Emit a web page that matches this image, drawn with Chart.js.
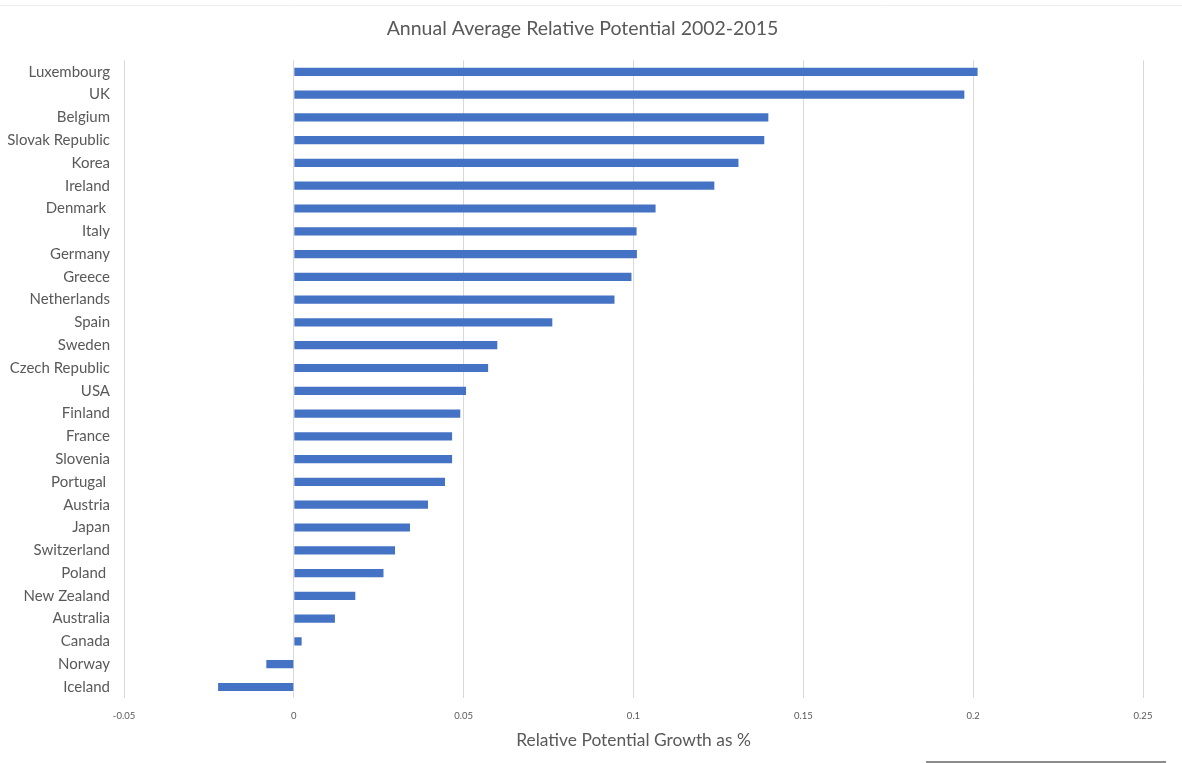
<!DOCTYPE html>
<html>
<head>
<meta charset="utf-8">
<title>Annual Average Relative Potential 2002-2015</title>
<script src="https://cdn.jsdelivr.net/npm/chart.js@4/dist/chart.umd.min.js"></script>
<style>
  html, body { margin: 0; padding: 0; background: #fff; }
  #wrap { width: 1182px; height: 763px; position: relative; }
</style>
</head>
<body>
<div id="wrap"><canvas id="potentialChart"></canvas></div>
<script>
// countries, top to bottom as shown
var countries = [
    "Luxembourg", "UK", "Belgium", "Slovak Republic", "Korea", "Ireland",
    "Denmark ", "Italy", "Germany", "Greece", "Netherlands", "Spain",
    "Sweden", "Czech Republic", "USA", "Finland", "France", "Slovenia",
    "Portugal ", "Austria", "Japan", "Switzerland", "Poland ", "New Zealand",
    "Australia", "Canada", "Norway", "Iceland"
];

var growth = [
    0.2013, 0.1974, 0.1397, 0.1385, 0.1309, 0.1238,
    0.1065, 0.1009, 0.1010, 0.0994, 0.0944, 0.0761,
    0.0599, 0.0572, 0.0507, 0.0490, 0.0466, 0.0466,
    0.0445, 0.0395, 0.0342, 0.0298, 0.0264, 0.0181,
    0.0121, 0.0023, -0.0081, -0.0223
];

var xTicks = [-0.05, 0, 0.05, 0.1, 0.15, 0.2, 0.25];

var textGrey = '#595959';
var barBlue = '#4472C4';

// faint screenshot edges seen in the picture
var edgeLines = {
    id: 'edgeLines',
    afterDraw: function(chart) {
        var c = chart.ctx;
        c.save();
        c.strokeStyle = '#eeeeee';
        c.lineWidth = 1;
        c.beginPath();
        c.moveTo(0, 5.5);
        c.lineTo(1182, 5.5);
        c.stroke();
        c.strokeStyle = '#8c8c8c';
        c.lineWidth = 2;
        c.beginPath();
        c.moveTo(926, 762);
        c.lineTo(1166, 762);
        c.stroke();
        c.restore();
    }
};

var config = {
    type: 'bar',
    data: {
        labels: countries,
        datasets: [{
            data: growth,
            backgroundColor: barBlue,
            borderWidth: 0,
            barPercentage: 0.36,
            categoryPercentage: 1
        }]
    },
    plugins: [edgeLines],
    options: {
        indexAxis: 'y',
        responsive: false,
        animation: false,
        layout: { padding: { left: 0, right: 17, top: 0, bottom: 12 } },
        plugins: {
            legend: { display: false },
            tooltip: { enabled: false },
            title: {
                display: true,
                text: 'Annual Average Relative Potential 2002-2015',
                color: textGrey,
                font: { family: 'Lato', size: 19.5, weight: 'normal' },
                padding: { top: 17, bottom: 20 }
            }
        },
        scales: {
            x: {
                type: 'linear',
                min: -0.05,
                max: 0.25,
                afterBuildTicks: function(scale) {
                    scale.ticks = xTicks.map(function(v) { return { value: v }; });
                },
                afterFit: function(scale) { scale.height = 52.6; },
                grid: { color: '#d9d9d9', lineWidth: 1, drawTicks: false },
                border: { display: false },
                ticks: {
                    color: textGrey,
                    padding: 12,
                    font: { family: 'Lato', size: 9.5 },
                    callback: function(v) { return String(Number(v.toFixed(2))); }
                },
                title: {
                    display: true,
                    text: 'Relative Potential Growth as %',
                    color: textGrey,
                    font: { family: 'Lato', size: 17.4 },
                    padding: { top: 8, bottom: 0 }
                }
            },
            y: {
                afterFit: function(scale) { scale.width = 124; },
                grid: { display: false, drawTicks: false },
                border: { display: false },
                ticks: {
                    color: textGrey,
                    padding: 14,
                    autoSkip: false,
                    font: { family: 'Lato', size: 15 }
                }
            },
            // empty right-hand strip so the plot ends where the picture's does
            yRight: {
                type: 'category',
                position: 'right',
                afterFit: function(scale) { scale.width = 22; },
                grid: { display: false, drawTicks: false },
                border: { display: false },
                ticks: { display: false }
            }
        }
    }
};

window.onload = function() {
    var canvas = document.getElementById('potentialChart');
    canvas.width = 1182;
    canvas.height = 763;
    var ctx = canvas.getContext('2d');
    window.potentialChart = new Chart(ctx, config);
};
</script>
</body>
</html>
